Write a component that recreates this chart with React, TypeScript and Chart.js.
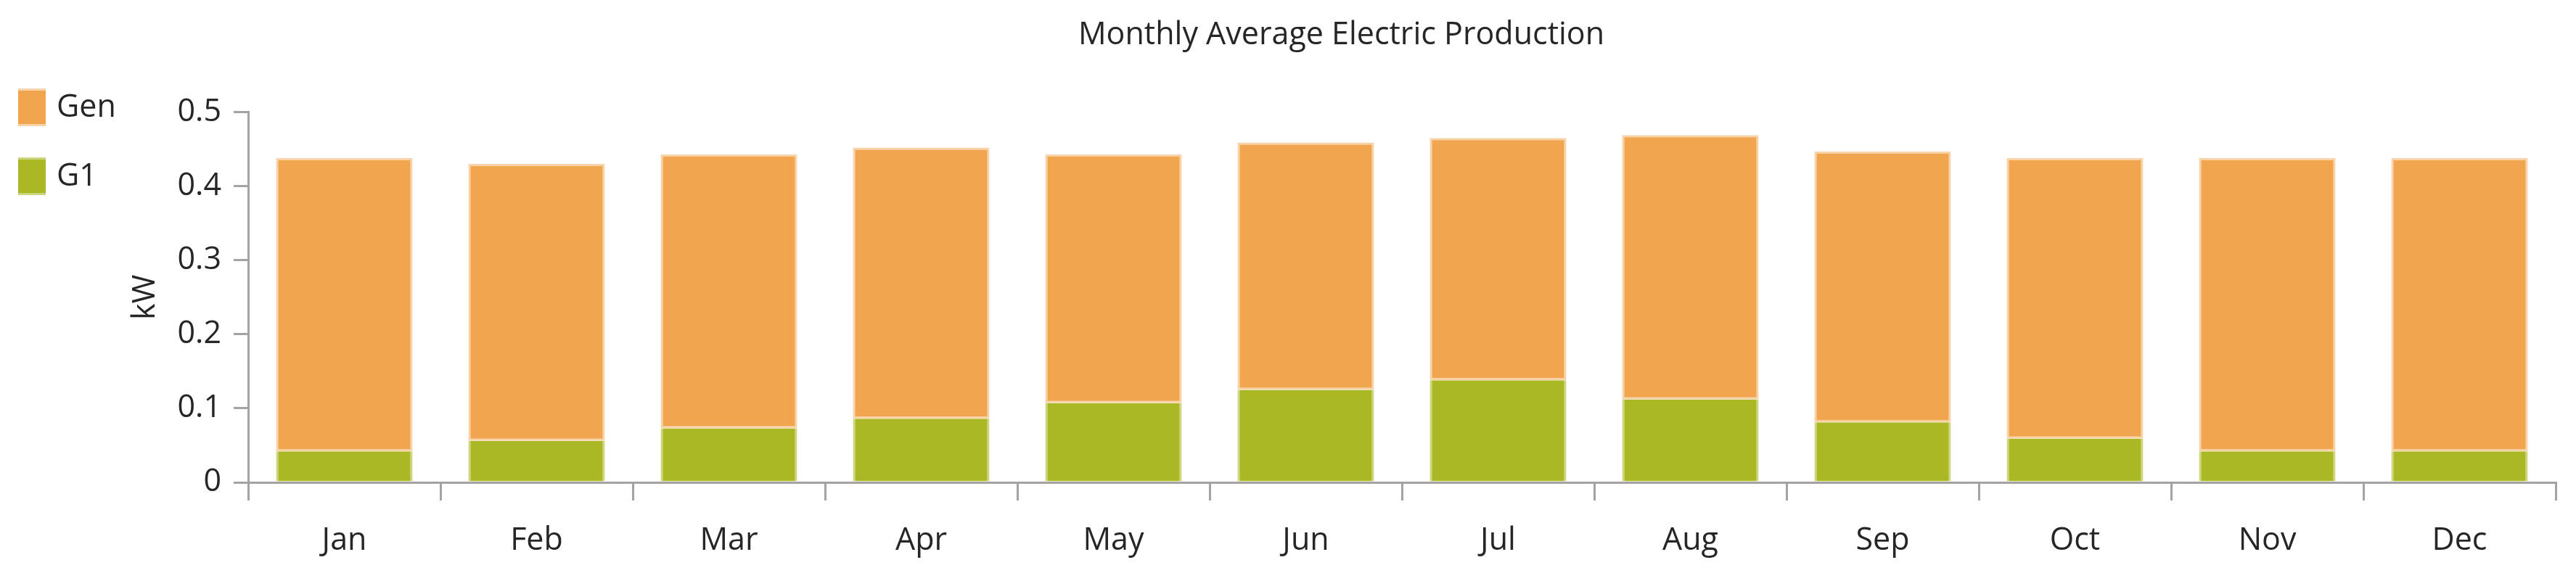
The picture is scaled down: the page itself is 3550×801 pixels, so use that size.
import React, { useEffect, useRef } from 'react';
import { Chart, registerables } from 'chart.js';

Chart.register(...registerables);

// ---- data ----
const months = ['Jan', 'Feb', 'Mar', 'Apr', 'May', 'Jun', 'Jul', 'Aug', 'Sep', 'Oct', 'Nov', 'Dec'];
const g1Values = [0.042, 0.056, 0.073, 0.086, 0.107, 0.125, 0.138, 0.112, 0.081, 0.059, 0.042, 0.042];
const genValues = [0.396, 0.374, 0.370, 0.366, 0.336, 0.334, 0.327, 0.357, 0.366, 0.379, 0.396, 0.396];
const seriesNames = ['G1', 'Gen'];
const yMin = 0;
const yMax = 0.5;
const yStep = 0.1;
const chartTitle = 'Monthly Average Electric Production';
const yAxisTitle = 'kW';

// ---- style ----
const FONT = "'Open Sans', 'Noto Sans', sans-serif";
const FONT_SIZE = 43;
const TEXT_COLOR = '#262626';
const AXIS_COLOR = '#a3a3a3';
const G1_COLOR = '#ABB826';
const G1_EDGE = '#CDD57F';
const GEN_COLOR = '#F0A54E';
const GEN_EDGE = '#F8D3A8';

const sideLegend = {
  id: 'sideLegend',
  afterDraw(chart: any) {
    const { ctx } = chart;
    const items = chart.data.datasets.slice().reverse();
    ctx.save();
    ctx.font = `${FONT_SIZE}px ${FONT}`;
    ctx.textBaseline = 'middle';
    ctx.textAlign = 'left';
    items.forEach((d: any, i: number) => {
      const top = 125 + i * 95;
      ctx.fillStyle = d.borderColor;
      ctx.fillRect(25, top - 3, 38, 52);
      ctx.fillStyle = d.backgroundColor;
      ctx.fillRect(25, top, 38, 46);
      ctx.fillStyle = TEXT_COLOR;
      ctx.fillText(d.label, 78, top + 24);
    });
    ctx.restore();
  },
};

export default function App() {
  const ref = useRef<HTMLCanvasElement | null>(null);

  useEffect(() => {
    document.body.style.margin = '0';
    const canvas = ref.current;
    if (!canvas) return;
    const chart = new Chart(canvas, {
      type: 'bar',
      data: {
        labels: months,
        datasets: [
          {
            label: seriesNames[0],
            data: g1Values,
            backgroundColor: G1_COLOR,
            borderColor: G1_EDGE,
            borderWidth: { left: 3, right: 3, top: 0, bottom: 0 },
            borderSkipped: false,
            barPercentage: 0.71,
            categoryPercentage: 1.0,
          },
          {
            label: seriesNames[1],
            data: genValues,
            backgroundColor: GEN_COLOR,
            borderColor: GEN_EDGE,
            borderWidth: { left: 3, right: 3, top: 3, bottom: 3 },
            borderSkipped: false,
            barPercentage: 0.71,
            categoryPercentage: 1.0,
          },
        ],
      },
      options: {
        responsive: false,
        animation: false,
        devicePixelRatio: 1,
        layout: { padding: { left: 175, right: 28, top: 0, bottom: 0 } },
        font: { family: FONT, size: FONT_SIZE },
        plugins: {
          legend: { display: false },
          tooltip: { enabled: false },
          title: {
            display: true,
            text: chartTitle,
            color: TEXT_COLOR,
            font: { family: FONT, size: FONT_SIZE, weight: 'normal' },
            padding: { top: 23, bottom: 80 },
          },
        },
        scales: {
          x: {
            stacked: true,
            grid: {
              display: true,
              drawOnChartArea: false,
              drawTicks: true,
              tickLength: 25,
              color: AXIS_COLOR,
              lineWidth: 3,
              offset: true,
            },
            border: { display: true, color: AXIS_COLOR, width: 3 },
            ticks: {
              color: TEXT_COLOR,
              padding: 30,
              font: { family: FONT, size: FONT_SIZE },
              maxRotation: 0,
              autoSkip: false,
            },
            afterFit: (s: any) => {
              s.height = 136;
            },
          },
          y: {
            stacked: true,
            min: yMin,
            max: yMax,
            grid: {
              display: true,
              drawOnChartArea: false,
              drawTicks: true,
              tickLength: 20,
              color: AXIS_COLOR,
              lineWidth: 3,
            },
            border: { display: true, color: AXIS_COLOR, width: 3 },
            ticks: {
              stepSize: yStep,
              color: TEXT_COLOR,
              padding: 17,
              font: { family: FONT, size: FONT_SIZE },
            },
            title: {
              display: true,
              text: yAxisTitle,
              color: TEXT_COLOR,
              font: { family: FONT, size: FONT_SIZE },
              padding: { top: 0, bottom: 0 },
            },
            afterFit: (s: any) => {
              s.width = 167;
            },
          },
        },
      },
      plugins: [sideLegend],
    } as any);
    return () => chart.destroy();
  }, []);

  return (
    <div style={{ position: 'absolute', left: 0, top: 0, width: 3550, height: 801 }}>
      <canvas ref={ref} width={3550} height={801} style={{ width: '3550px', height: '801px', display: 'block' }} />
    </div>
  );
}
